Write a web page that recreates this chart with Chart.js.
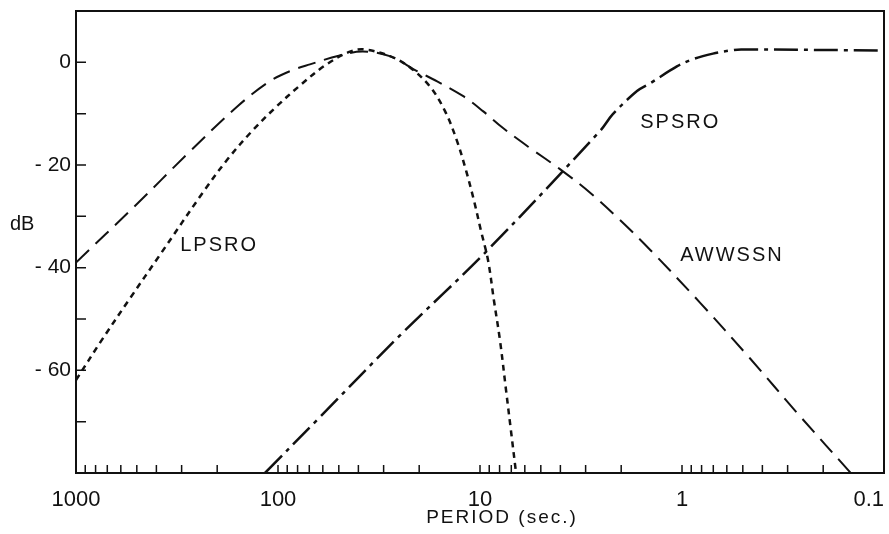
<!DOCTYPE html>
<html>
<head>
<meta charset="utf-8">
<script src="https://cdn.jsdelivr.net/npm/chart.js@4.4.1/dist/chart.umd.min.js"></script>
<style>
  html,body{margin:0;padding:0;background:#fff;}
  #c{display:block;}
</style>
</head>
<body>
<canvas id="c" width="889" height="534"></canvas>
<script>
// tick labels
const periodTicks = [1000, 100, 10, 1, 0.1];
const dbTicks = [0, -20, -40, -60];
const dbMarks = [0, -10, -20, -30, -40, -50, -60, -70];

// LPSRO (short dashes)
const lpsroPeriod = [1000, 760, 541, 384, 232, 177, 134.5, 102.3, 77.8, 58.5, 44, 37.1, 27.9, 22.2, 17.7, 14.9, 13.0, 11.7, 10.7, 9.89, 9.12, 8.53, 7.96, 7.43, 7.03, 6.63];
const lpsroDb     = [-61.9, -54.6, -46, -37.5, -25, -18.8, -13.4, -8.7, -4.5, -0.6, 2.1, 2.5, 1.2, -1, -4.7, -9.5, -15.3, -21.2, -27, -32.8, -38.6, -46.4, -54.2, -63.9, -71.7, -80];

// AWWSSN (long dashes)
const awwPeriod = [1000, 505, 282, 158, 110, 87, 69.5, 50, 38, 28, 20.5, 16.3, 12.1, 9.67, 7.69, 5.65, 4.02, 2.85, 2.03, 1.44, 0.815, 0.46, 0.261, 0.146];
const awwDb     = [-39, -27.8, -17.9, -8.5, -3.7, -1.7, -0.4, 1.3, 2.1, 1.2, -1.7, -3.7, -6.6, -9.5, -12.8, -16.7, -20.8, -25.4, -30.7, -36.5, -46.8, -57.7, -68.9, -80];

// SPSRO (dash-dot)
const spsroPeriod = [116, 62, 24.9, 9.23, 2.55, 2.2, 1.67, 1.44, 1.06, 0.883, 0.703, 0.58, 0.51, 0.1];
const spsroDb     = [-80, -69.1, -53.2, -36.7, -13.4, -10.1, -5.6, -4.1, -0.8, 0.6, 1.7, 2.3, 2.5, 2.3];

Chart.defaults.font.family = '"Liberation Sans", Arial, sans-serif';
Chart.defaults.color = '#111';

const pts = (xs, ys) => xs.map((x, i) => ({x, y: ys[i]}));

function line(label, xs, ys, dash, w) {
  return {label, data: pts(xs, ys), borderColor: '#111', borderWidth: w, borderDash: dash,
    pointRadius: 0, fill: false, tension: 0.35};
}

const frame = {
  id: 'frame',
  afterDraw(chart) {
    const {ctx, chartArea: a, scales: {x, y}} = chart;
    ctx.save();
    ctx.strokeStyle = '#111';
    ctx.lineWidth = 2;
    ctx.beginPath();
    ctx.moveTo(a.left, a.top); ctx.lineTo(a.right, a.top); ctx.lineTo(a.right, a.bottom);
    ctx.stroke();

    // inward tick marks
    ctx.lineWidth = 1.5;
    ctx.beginPath();
    for (let k = -1; k <= 2; k++) {
      for (let m = 1; m <= 9; m++) {
        const v = m * Math.pow(10, k);
        const px = x.getPixelForValue(v);
        ctx.moveTo(px, a.bottom); ctx.lineTo(px, a.bottom - 8);
      }
    }
    dbMarks.forEach(v => {
      const py = y.getPixelForValue(v);
      ctx.moveTo(a.left, py); ctx.lineTo(a.left + 10, py);
    });
    ctx.stroke();

    // x tick labels
    ctx.fillStyle = '#111';
    ctx.font = '22px "Liberation Sans", Arial, sans-serif';
    ctx.textBaseline = 'middle';
    ctx.textAlign = 'center';
    periodTicks.forEach(v => {
      const s = String(v);
      const w = ctx.measureText(s).width;
      let px = x.getPixelForValue(v);
      px = Math.min(px, chart.width - 5 - w / 2);
      ctx.fillText(s, px, a.bottom + 27);
    });

    // annotations
    ctx.font = '20px "Liberation Sans", Arial, sans-serif';
    ctx.letterSpacing = '2px';
    ctx.textAlign = 'left';
    ctx.fillText('LPSRO', x.getPixelForValue(305), y.getPixelForValue(-35.7));
    ctx.fillText('SPSRO', x.getPixelForValue(1.61), y.getPixelForValue(-11.8));
    ctx.fillText('AWWSSN', x.getPixelForValue(1.02), y.getPixelForValue(-37.7));
    ctx.letterSpacing = '0px';
    ctx.fillText('dB', a.left - 66, y.getPixelForValue(-31.5));
    ctx.font = '19px "Liberation Sans", Arial, sans-serif';
    ctx.letterSpacing = '2px';
    ctx.textAlign = 'center';
    ctx.fillText('PERIOD (sec.)', (a.left + a.right) / 2 + 22, a.bottom + 45);
    ctx.restore();
  }
};

new Chart(document.getElementById('c'), {
  type: 'line',
  data: {
    datasets: [
      line('LPSRO', lpsroPeriod, lpsroDb, [6, 5], 2.5),
      line('AWWSSN', awwPeriod, awwDb, [18, 9], 2),
      line('SPSRO', spsroPeriod, spsroDb, [24, 6, 4, 6], 2.5),
    ]
  },
  options: {
    responsive: false,
    animation: false,
    layout: {padding: {top: 11, right: 5, left: 0, bottom: 0}},
    plugins: {legend: {display: false}, tooltip: {enabled: false}},
    scales: {
      x: {
        type: 'logarithmic', reverse: true, min: 0.1, max: 1000,
        border: {display: true, color: '#111', width: 2},
        grid: {display: false},
        ticks: {display: false},
        afterFit: s => { s.height = 61; s.paddingLeft = 0; s.paddingRight = 0; }
      },
      y: {
        type: 'linear', min: -80, max: 10,
        border: {display: true, color: '#111', width: 2},
        grid: {display: false, drawTicks: false},
        afterBuildTicks: s => { s.ticks = dbTicks.map(v => ({value: v})); },
        ticks: {
          font: {size: 21}, padding: 5, color: '#111',
          callback: v => v < 0 ? '- ' + Math.abs(v) : String(v)
        },
        afterFit: s => { s.width = 76; s.paddingTop = 0; s.paddingBottom = 0; }
      }
    }
  },
  plugins: [frame]
});
</script>
</body>
</html>
